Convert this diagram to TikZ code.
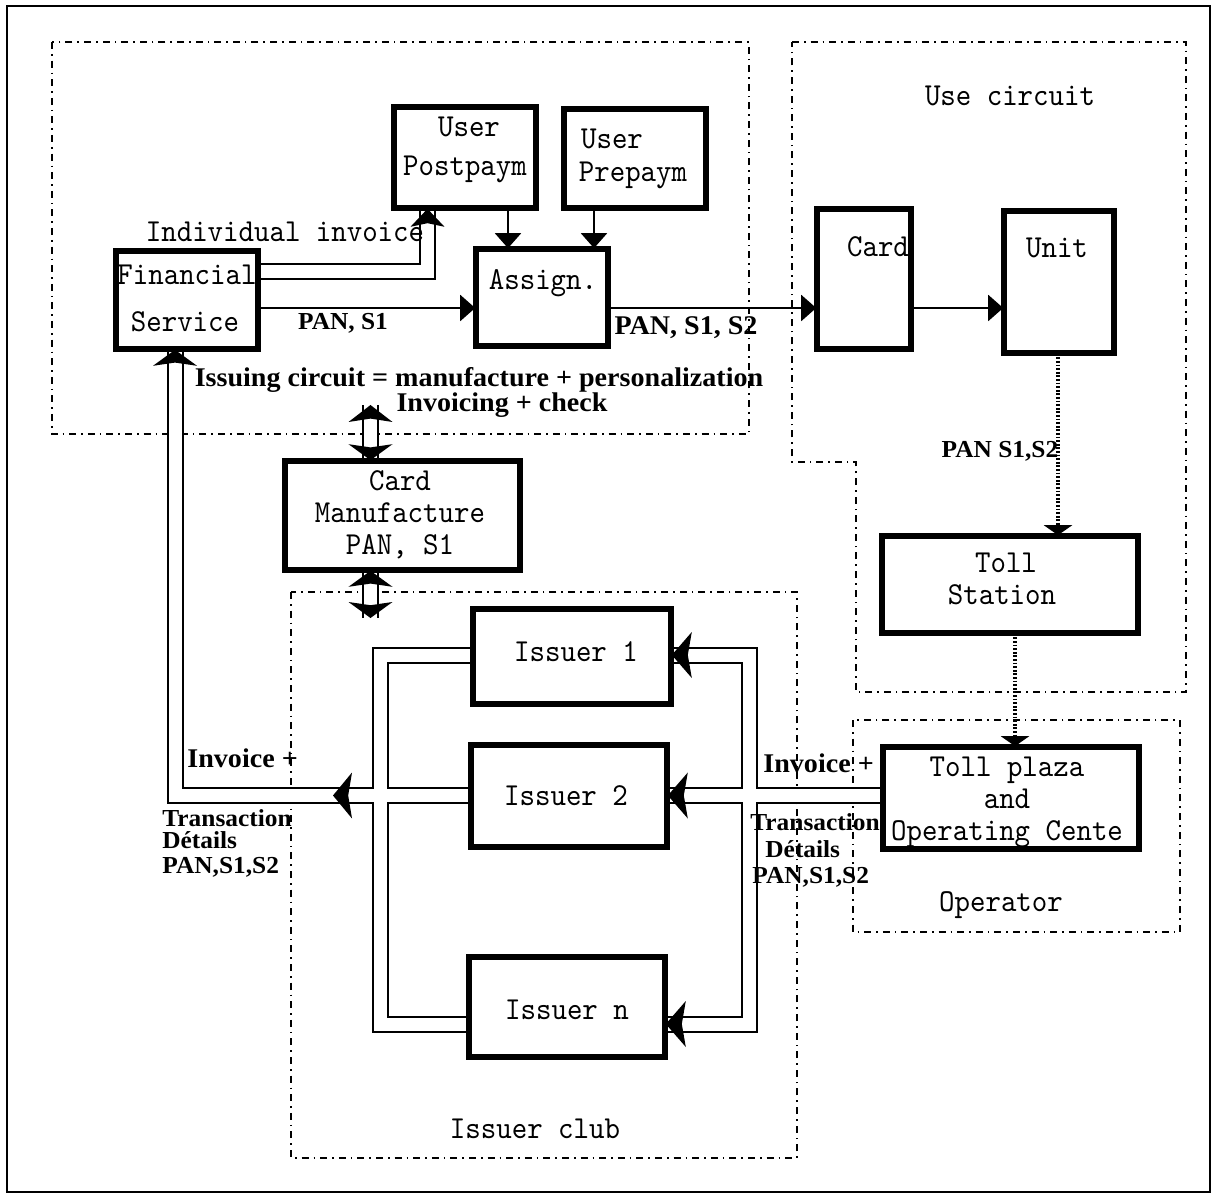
\documentclass[tikz,border=0pt]{standalone}
\usepackage{fontspec}
\setmainfont{Liberation Serif}
\newfontfamily\typfont[Extension=.otf, FakeStretch=0.92]{lmmono10-regular}
\newfontfamily\lblfont[FakeStretch=1.04]{Liberation Serif}
\usetikzlibrary{arrows.meta}

\newcommand\mytipU[3]{\fill (#1) -- ++({-0.5*#2},#3) -- ++({0.5*#2},{-0.2*#3}) -- ++({0.5*#2},{0.2*#3}) -- cycle;}
\newcommand\mytipD[3]{\fill (#1) -- ++({-0.5*#2},{-#3}) -- ++({0.5*#2},{0.2*#3}) -- ++({0.5*#2},{-0.2*#3}) -- cycle;}
\newcommand\mytipL[3]{\fill (#1) -- ++(#3,{-0.5*#2}) -- ++({-0.2*#3},{0.5*#2}) -- ++({0.2*#3},{0.5*#2}) -- cycle;}

\tikzset{
 box/.style={draw, line width=1.8pt, fill=white, inner sep=0pt, rectangle},
 txt/.style={font=\typfont\fontsize{16}{16}\selectfont, inner sep=0pt, anchor=base},
 stack/.style={txt, align=center, anchor=north},
 lbl/.style={font=\lblfont\bfseries\fontsize{13.5}{14}\selectfont, inner sep=0pt, anchor=base},
 lbls/.style={font=\lblfont\bfseries\fontsize{12.2}{13}\selectfont, inner sep=0pt, anchor=base},
 lblw/.style={lbl, anchor=base west},
 lblsw/.style={lbls, anchor=base west},
 grp/.style={line width=1pt, dash pattern=on 3.5pt off 2.5pt on 0.8pt off 2.5pt},
 arr/.style={line width=1pt, -{Triangle[width=13pt,length=7.5pt]}},
 dotarr/.style={line width=1.6pt, dash pattern=on 0.9pt off 0.9pt, -{Triangle[width=14pt,length=5pt]}},
 dbl/.style={line width=8.5pt, postaction={draw=white, line width=6.5pt}},
}

\begin{document}
\begin{tikzpicture}[x=0.5pt,y=-0.5pt]
\fill[white] (0,0) rectangle (1219,1202);
\useasboundingbox (0,0) rectangle (1219,1202);

% outer frame
\draw[line width=1pt] (7,6) rectangle (1210,1192);

% group outlines
\draw[grp] (52,42) rectangle (749,434);
\draw[grp] (792,42) -- (1186,42) -- (1186,692) -- (856,692) -- (856,462) -- (792,462) -- cycle;
\draw[grp] (853,720) rectangle (1180,932);
\draw[grp] (291,592) rectangle (797,1158);

% boxes
\node[box, minimum width=70pt, minimum height=49.5pt] (post) at (465,157.5) {};
\node[box, minimum width=70pt, minimum height=48.5pt] (prep) at (635,158.5) {};
\node[box, minimum width=70pt, minimum height=48pt] (fin) at (187,300) {};
\node[box, minimum width=65pt, minimum height=47.5pt] (assign) at (542,297.5) {};
\node[box, minimum width=46pt, minimum height=69pt] (card) at (864,279) {};
\node[box, minimum width=54pt, minimum height=70pt] (unit) at (1059,282) {};
\node[box, minimum width=116.5pt, minimum height=53.5pt] (cm) at (402.5,515.5) {};
\node[box, minimum width=127pt, minimum height=47.5pt] (tollst) at (1010,584.5) {};
\node[box, minimum width=98pt, minimum height=46.5pt] (iss1) at (572,656.5) {};
\node[box, minimum width=97pt, minimum height=50pt] (iss2) at (569,796) {};
\node[box, minimum width=97pt, minimum height=49pt] (issn) at (567,1007) {};
\node[box, minimum width=127pt, minimum height=50pt] (plaza) at (1011,798) {};

% helper coordinates
\coordinate (c175) at (175,0);
\coordinate (c380) at (380.5,0);
\coordinate (c750) at (749.5,0);
\coordinate (c428) at (427.5,0);
\coordinate (c370) at (370.5,0);
\coordinate (y795) at (0,795.5);
\coordinate (y655) at (0,655);
\coordinate (y1024) at (0,1024);
\coordinate (y272) at (0,272);
\coordinate (y308) at (0,308);
\coordinate (x508) at (508,0);
\coordinate (x594) at (594,0);
\coordinate (x1058) at (1058,0);
\coordinate (x1015) at (1015,0);
\coordinate (cmTop) at (370.5,405);
\coordinate (cmBot) at (370.5,618);

% double-line connectors
\draw[dbl]
  (fin.south -| c175) -- (c175 |- y795) -- (iss2.west |- y795)
  (iss1.west |- y655) -- (c380 |- y655) -- (c380 |- y1024) -- (issn.west |- y1024)
  (iss1.east |- y655) -- (c750 |- y655) -- (c750 |- y1024) -- (issn.east |- y1024)
  (iss2.east |- y795) -- (plaza.west |- y795)
  (fin.east |- y272) -- (c428 |- y272) -- (post.south -| c428)
  (cmTop) -- (cm.north -| c370)
  (cm.south -| c370) -- (cmBot);

% redraw box borders over the double lines
\foreach \b in {post,prep,fin,assign,card,unit,cm,tollst,iss1,iss2,issn,plaza}
  \draw[line width=1.8pt] (\b.north west) rectangle (\b.south east);

% arrowheads on double lines
\mytipU{post.south -| c428}{34}{18}
\mytipU{fin.south -| c175}{44}{16}
\mytipL{333,795.5}{46}{19}
\mytipL{iss1.east |- y655}{46}{20}
\mytipL{iss2.east |- y795}{46}{20}
\mytipL{issn.east |- y1024}{46}{20}
\mytipU{cmTop}{44}{17}
\mytipD{cm.north -| c370}{44}{16}
\mytipU{cm.south -| c370}{44}{16}
\mytipD{cmBot}{44}{16}

% single connectors
\draw[arr] (post.south -| x508) -- (assign.north -| x508);
\draw[arr] (prep.south -| x594) -- (assign.north -| x594);
\draw[arr] (fin.east |- y308) -- (assign.west |- y308);
\draw[arr] (assign.east |- y308) -- (card.west |- y308);
\draw[arr] (card.east |- y308) -- (unit.west |- y308);
\draw[dotarr] (unit.south -| x1058) -- (tollst.north -| x1058);
\draw[dotarr] (tollst.south -| x1015) -- (plaza.north -| x1015);

% box texts
\node[txt] (postU) at (469,137) {User};
\node[txt] (postP) at (465,176) {Postpaym};
\node[txt] (prepU) at (612,149) {User};
\node[txt] (prepP) at (633,182) {Prepaym};
\node[txt] (finF) at (187,285) {Financial};
\node[txt] (finS) at (185,332) {Service};
\node[txt] (assignT) at (543,290) {Assign.};
\node[txt] (cardT) at (878,257) {Card};
\node[txt] (unitT) at (1057,258) {Unit};
\node[stack] (cmT) at (400,470) {Card\\Manufacture\\PAN, S1};
\node[stack] (tsT) at (1002,553) {\hspace*{4pt}Toll\\Station};
\node[stack] (tpT) at (1007,757) {Toll plaza\\and\\Operating Cente};
\node[txt] (i1T) at (576,661) {Issuer 1};
\node[txt] (i2T) at (566,805) {Issuer 2};
\node[txt] (inT) at (567,1019) {Issuer n};

% group / free texts
\node[txt] (indinv) at (285,242) {Individual invoice};
\node[txt] (usec) at (1010,106) {Use circuit};
\node[txt] (oper) at (1001,911) {Operator};
\node[txt] (club) at (535,1138) {Issuer club};

% bold labels
\node[lbls] (l1) at (343,330) {PAN, S1};
\node[lbl] (l2) at (686,335) {PAN, S1, S2};
\node[lbl] (l3) at (479,387) {Issuing circuit = manufacture + personalization};
\node[lbl] (l4) at (502,412) {Invoicing + check};
\node[lbls] (l5) at (1000,458) {PAN S1,S2};
\node[lblw] (l6) at (187,767) {Invoice +};
\node[lblsw] (l7) at (162,826) {Transaction};
\node[lblsw] (l8) at (162,848) {Détails};
\node[lblsw] (l9) at (162,873) {PAN,S1,S2};
\node[lblw] (r6) at (763,772) {Invoice +};
\node[lblsw] (r7) at (750,830) {Transaction};
\node[lblsw] (r8) at (765,857) {Détails};
\node[lblsw] (r9) at (752,883) {PAN,S1,S2};
\end{tikzpicture}
\end{document}
